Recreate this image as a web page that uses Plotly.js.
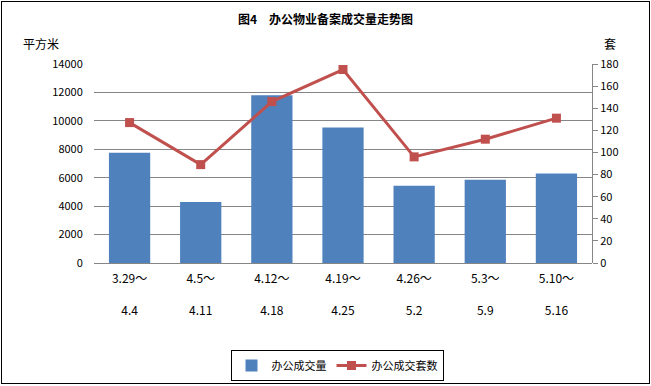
<!DOCTYPE html>
<html>
<head>
<meta charset="utf-8">
<script src="https://cdn.plot.ly/plotly-3.0.1.min.js"></script>
<style>
html,body{margin:0;padding:0;background:#fff;}
#wrap{position:relative;width:651px;height:386px;}
#chart{position:absolute;left:0;top:0;width:651px;height:386px;}
#border{position:absolute;left:1px;top:1px;width:647px;height:381px;border:1px solid #000;pointer-events:none;}
</style>
</head>
<body>
<div id="wrap"><div id="chart"></div><div id="border"></div></div>
<script>
const categories = ["3.29～<br><br>4.4","4.5～<br><br>4.11","4.12～<br><br>4.18","4.19～<br><br>4.25","4.26～<br><br>5.2","5.3～<br><br>5.9","5.10～<br><br>5.16"];
const areaValues = [7750, 4300, 11800, 9530, 5440, 5860, 6290];
const unitValues = [127, 89, 146, 175, 96, 112, 131];
const leftTicks = [0,2000,4000,6000,8000,10000,12000,14000];
const rightTicks = [0,20,40,60,80,100,120,140,160,180];

const font = "'Noto Sans CJK SC','DejaVu Sans',sans-serif";
const idx = categories.map((c,i)=>i);

const traces = [
  {type:'bar', name:'办公成交量', x:idx, y:areaValues, marker:{color:'#4F81BD'}, yaxis:'y'},
  {type:'scatter', mode:'lines+markers', name:'办公成交套数', x:idx, y:unitValues, yaxis:'y2',
   line:{color:'#C0504D', width:3}, marker:{symbol:'square', size:9, color:'#C0504D'}}
];

const layout = {
  width:651, height:386,
  margin:{l:94, r:59, t:64, b:123, autoexpand:false},
  paper_bgcolor:'#fff', plot_bgcolor:'#fff',
  font:{family:font, size:11, color:'#000'},
  showlegend:true,
  bargap:0.42,
  title:{text:'<b>图4　办公物业备案成交量走势图</b>', font:{family:font, size:12, color:'#000'},
         x:0.5, xanchor:'center', y:1-20/386, yanchor:'middle'},
  xaxis:{tickmode:'array', tickvals:idx, ticktext:categories, range:[-0.5,6.5], automargin:false,
         showgrid:false, zeroline:false, showline:false,
         ticks:'outside', ticklen:5, tickcolor:'rgba(0,0,0,0)', tickfont:{size:12}},
  yaxis:{range:[0,14000], tickmode:'array', tickvals:leftTicks, ticktext:leftTicks.map(String), automargin:false,
         showgrid:true, gridcolor:'#868686', gridwidth:1,
         zeroline:true, zerolinecolor:'#868686', zerolinewidth:1, showline:false, ticks:'outside', ticklen:8, tickcolor:'rgba(0,0,0,0)', tickfont:{size:11}},
  yaxis2:{range:[0,180], tickmode:'array', tickvals:rightTicks, ticktext:rightTicks.map(String), overlaying:'y', side:'right', showgrid:false, automargin:false,
          zeroline:false, showline:true, linecolor:'#868686', linewidth:1, ticks:'outside', ticklen:5, tickcolor:'#868686', tickfont:{size:11}},
  legend:{orientation:'h', x:(337-94)/498, xanchor:'center', y:(263-381)/199, yanchor:'bottom',
          bordercolor:'#000', borderwidth:1, bgcolor:'#fff', font:{size:11}},
  annotations:[
    {text:'平方米', xref:'paper', yref:'paper', x:(41-94)/498, y:(263-43)/199, xanchor:'center', yanchor:'middle', showarrow:false, font:{size:12}},
    {text:'套', xref:'paper', yref:'paper', x:(610-94)/498, y:(263-43)/199, xanchor:'center', yanchor:'middle', showarrow:false, font:{size:12}}
  ]
};
Plotly.newPlot('chart', traces, layout, {displayModeBar:false, staticPlot:true});
</script>
</body>
</html>
